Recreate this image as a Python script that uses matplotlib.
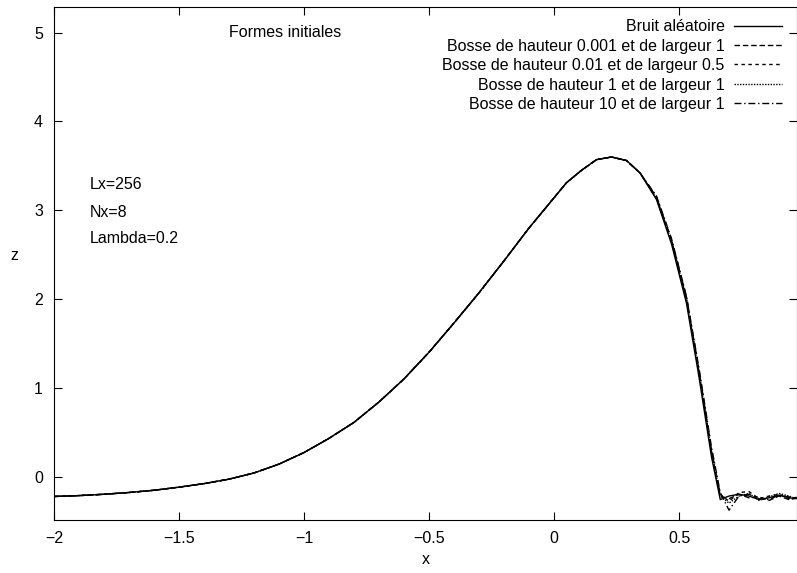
import numpy as np
import matplotlib
matplotlib.use("Agg")
import matplotlib.pyplot as plt

plt.rcParams["font.family"] = ["Liberation Sans", "DejaVu Sans"]

# abscisses communes
x = [-2.0, -1.9, -1.8, -1.7, -1.6, -1.5, -1.4, -1.3, -1.2, -1.1, -1.0, -0.9,
     -0.8, -0.7, -0.6, -0.5, -0.4, -0.3, -0.2, -0.1, -0.05, 0.0, 0.05, 0.11,
     0.17, 0.23, 0.29, 0.344, 0.41, 0.47, 0.53, 0.58, 0.63, 0.665,
     0.70, 0.74, 0.78, 0.82, 0.86, 0.90, 0.94, 0.98]

# partie commune du profil (jusqu'a x=0.344)
base = [-0.225, -0.215, -0.20, -0.18, -0.155, -0.12, -0.08, -0.03, 0.04, 0.14,
        0.27, 0.43, 0.61, 0.84, 1.10, 1.40, 1.73, 2.07, 2.43, 2.80, 2.97, 3.14,
        3.31, 3.45, 3.57, 3.60, 3.56, 3.42]

bruit = base + [3.12, 2.62, 1.95, 1.12, 0.22, -0.26] + \
    [-0.22, -0.20, -0.22, -0.26, -0.24, -0.21, -0.24, -0.25]
bosse_0001 = base + [3.14, 2.66, 2.00, 1.18, 0.28, -0.22] + \
    [-0.25, -0.20, -0.24, -0.23, -0.27, -0.22, -0.26, -0.24]
bosse_001 = base + [3.15, 2.67, 2.02, 1.20, 0.30, -0.20] + \
    [-0.28, -0.18, -0.17, -0.25, -0.22, -0.20, -0.25, -0.23]
bosse_1 = base + [3.13, 2.65, 1.99, 1.17, 0.27, -0.22] + \
    [-0.30, -0.22, -0.19, -0.27, -0.23, -0.19, -0.22, -0.26]
bosse_10 = base + [3.16, 2.68, 2.03, 1.22, 0.33, -0.18] + \
    [-0.38, -0.22, -0.20, -0.25, -0.26, -0.21, -0.23, -0.25]

labels = ["Bruit aléatoire",
          "Bosse de hauteur 0.001 et de largeur 1",
          "Bosse de hauteur 0.01 et de largeur 0.5",
          "Bosse de hauteur 1 et de largeur 1",
          "Bosse de hauteur 10 et de largeur 1"]
series = [bruit, bosse_0001, bosse_001, bosse_1, bosse_10]
styles = ["-", (0, (4, 2)), (0, (2.5, 2.5)), (0, (1, 1)), (0, (5, 2, 1, 2))]

fig = plt.figure(figsize=(7.97, 5.73), dpi=100)
ax = fig.add_axes([0.0678, 0.0925, 0.9322, 0.8953])

for y, lab, ls in zip(series, labels, styles):
    ax.plot(x, y, color="black", linestyle=ls, linewidth=1.0, label=lab)

ax.set_xlim(-2, 0.972)
ax.set_ylim(-0.49, 5.29)
ax.set_xticks([-2, -1.5, -1, -0.5, 0, 0.5])
ax.set_xticklabels(["−2", "−1.5", "−1", "−0.5", "0", "0.5"])
ax.set_yticks([0, 1, 2, 3, 4, 5])
ax.tick_params(direction="in", top=True, right=True, length=6, labelsize=11.5, pad=8)
ax.set_xlabel("x", fontsize=11.5)
ax.set_ylabel("z", fontsize=11.5, rotation=0, labelpad=14)

ax.text(-1.076, 5.0, "Formes initiales", fontsize=11.5, ha="center", va="center")
ax.text(-1.856, 3.29, "Lx=256", fontsize=11.5, va="center")
ax.text(-1.856, 2.98, "Nx=8", fontsize=11.5, va="center")
ax.text(-1.856, 2.68, "Lambda=0.2", fontsize=11.5, va="center")

ax.legend(loc="upper right", bbox_to_anchor=(0.993, 0.995), frameon=False,
          markerfirst=False, fontsize=11.5, handlelength=3.0, labelspacing=0.28,
          handletextpad=0.6, borderaxespad=0.2)

fig.savefig("out.png", dpi=100)
